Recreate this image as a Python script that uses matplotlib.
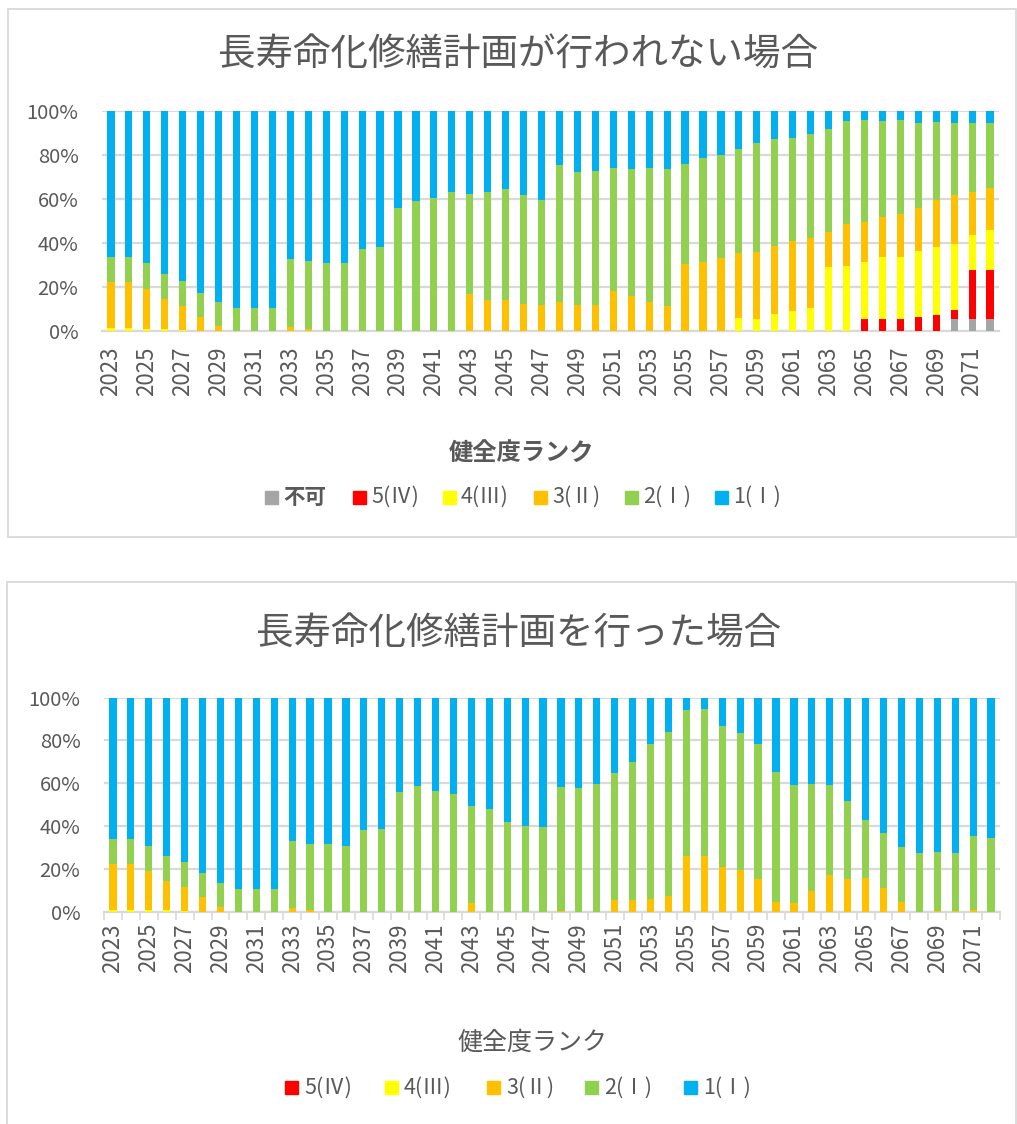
import matplotlib
matplotlib.use("Agg")
import matplotlib.pyplot as plt
from matplotlib.patches import Rectangle
import numpy as np

plt.rcParams['font.family'] = ['Noto Sans CJK JP', 'DejaVu Sans']

years = list(range(2023, 2073))
series_names = ["不可", "5(Ⅳ)", "4(Ⅲ)", "3(Ⅱ)", "2(Ⅰ)", "1(Ⅰ)"]
colors = ["#A5A5A5", "#FF0000", "#FFFF00", "#FFC000", "#92D050", "#00B0F0"]

title_top = "長寿命化修繕計画が行われない場合"
title_bottom = "長寿命化修繕計画を行った場合"
axis_title = "健全度ランク"

# ---- top chart: plan not carried out (percent of each rank) ----
top_fuka = [0]*47 + [5.3, 5.3, 5.3]
top_r5 = [0]*42 + [5.3, 5.3, 5.3, 6.2, 7.3, 4.2, 22.6, 22.6]
top_r4 = [1.2, 1.2, 0.8, 0.8, 0.4, 0.2] + [0]*29 + \
         [5.8, 5.6, 7.7, 8.9, 10.5, 29.1, 29.7, 26.1, 28.2, 28.5, 30.0, 31.0, 29.9, 15.7, 18.0]
top_r3 = [21.2, 21.2, 18.4, 13.6, 11.1, 6.3, 2.3, 0, 0, 0,
          1.7, 0.8, 0, 0, 0, 0, 0, 0, 0, 0,
          16.8, 14.2, 14.2, 12.3, 11.7, 13.0, 11.7, 12.0, 18.0, 16.1,
          13.0, 11.5, 30.3, 31.5, 33.0, 29.8, 30.5, 31.1, 32.0, 31.8,
          15.9, 18.9, 18.0, 18.5, 19.5, 19.9, 21.2, 22.3, 19.4, 18.9]
top_r2 = [11.4, 11.4, 11.6, 11.5, 11.1, 10.9, 10.7, 10.6, 10.6, 10.6,
          30.9, 30.9, 31.1, 30.8, 37.1, 38.0, 55.9, 58.9, 60.5, 63.0,
          45.6, 48.8, 50.3, 49.4, 47.7, 62.3, 60.4, 60.6, 55.9, 57.4,
          60.9, 62.1, 45.5, 47.1, 46.8, 47.1, 49.4, 48.6, 46.7, 47.1,
          47.0, 47.0, 46.4, 43.3, 42.6, 38.3, 35.3, 32.7, 31.4, 29.6]
top_r1 = [66.2, 66.2, 69.2, 74.1, 77.4, 82.6, 87.0, 89.4, 89.4, 89.4,
          67.4, 68.3, 68.9, 69.2, 62.9, 62.0, 44.1, 41.1, 39.5, 37.0,
          37.6, 37.0, 35.5, 38.3, 40.6, 24.7, 27.9, 27.4, 26.1, 26.5,
          26.1, 26.4, 24.2, 21.4, 20.2, 17.3, 14.5, 12.6, 12.4, 10.6,
          8.0, 4.4, 4.2, 4.7, 4.1, 5.6, 5.2, 5.6, 5.6, 5.6]

# ---- bottom chart: plan carried out ----
bot_r5 = [0]*50
bot_r4 = [1.1, 1.1, 0.8, 0.8, 0.5, 0.2] + [0]*44
bot_r3 = [21.3, 21.3, 18.5, 13.8, 11.0, 6.7, 2.5, 0, 0, 0,
          1.7, 0.8, 0, 0, 0, 0, 0, 0, 0, 0,
          4.4, 0, 0, 0, 0, 0.3, 0, 0, 5.6, 5.6,
          6.1, 7.5, 26.0, 26.3, 21.0, 19.8, 15.4, 4.5, 4.4, 9.8,
          17.4, 15.6, 15.9, 11.2, 4.7, 0, 0.3, 0.3, 1.1, 0]
bot_r2 = [11.6, 11.6, 11.7, 11.7, 11.6, 11.2, 11.1, 10.9, 10.9, 10.9,
          31.2, 31.1, 31.5, 31.0, 38.0, 38.8, 56.1, 58.7, 56.6, 54.8,
          44.8, 47.8, 41.9, 40.3, 39.4, 58.1, 57.6, 59.8, 59.0, 64.3,
          72.1, 76.4, 68.1, 68.2, 65.8, 63.7, 62.8, 60.6, 54.6, 49.7,
          41.6, 36.1, 27.2, 25.4, 25.4, 27.7, 27.9, 27.4, 34.1, 34.7]
bot_r1 = [66.0, 66.0, 69.0, 73.7, 76.9, 81.9, 86.4, 89.1, 89.1, 89.1,
          67.1, 68.1, 68.5, 69.0, 62.0, 61.2, 43.9, 41.3, 43.4, 45.2,
          50.8, 52.2, 58.1, 59.7, 60.6, 41.6, 42.4, 40.2, 35.4, 30.1,
          21.8, 16.1, 5.9, 5.5, 13.2, 16.5, 21.8, 34.9, 41.0, 40.5,
          41.0, 48.3, 56.9, 63.4, 69.9, 72.3, 71.8, 72.3, 64.8, 65.3]

TXT = "#595959"
GRID = "#D9D9D9"
W, H = 1017, 1124

fig = plt.figure(figsize=(W / 100, H / 100), dpi=100)


def fx(px):
    return px / W


def fy(py):
    return 1 - py / H


def draw_chart(rect, series, cols, ticks_marks):
    ax = fig.add_axes(rect)
    x = np.arange(len(years))
    bottom = np.zeros(len(years))
    for vals, c in zip(series, cols):
        v = np.array(vals, dtype=float)
        ax.bar(x, v, bottom=bottom, width=0.4, color=c, edgecolor='none', zorder=3)
        bottom += v
    ax.set_xlim(-0.5, len(years) - 0.5)
    ax.set_ylim(0, 100)
    ax.set_yticks(np.arange(0, 101, 20))
    ax.set_yticklabels([f"{v}%" for v in range(0, 101, 20)], fontsize=14.5, color=TXT)
    ax.yaxis.grid(True, color=GRID, linewidth=1.6, zorder=0)
    ax.set_axisbelow(True)
    for s in ['top', 'right', 'left']:
        ax.spines[s].set_visible(False)
    ax.spines['bottom'].set_color(GRID)
    ax.spines['bottom'].set_linewidth(1.6)
    ax.tick_params(axis='y', length=0, pad=17)
    ax.set_xticks(x[::2])
    ax.set_xticklabels([str(y) for y in years[::2]], rotation=90,
                       fontsize=16, color=TXT)
    if ticks_marks:
        ax.set_xticks(np.arange(-0.5, len(years), 1), minor=True)
        ax.tick_params(axis='x', which='minor', length=6, color=GRID, width=1.2)
        ax.tick_params(axis='x', which='major', length=0, pad=8)
    else:
        ax.tick_params(axis='x', length=0, pad=11)
    return ax


# panel borders
fig.patches.append(Rectangle((fx(8), fy(537)), fx(1016) - fx(8), fy(9) - fy(537),
                             transform=fig.transFigure, fill=False,
                             edgecolor=GRID, linewidth=1.3))
fig.patches.append(Rectangle((fx(7), fy(1130)), fx(1016) - fx(7), fy(582) - fy(1130),
                             transform=fig.transFigure, fill=False,
                             edgecolor=GRID, linewidth=1.3))

# top chart
top_series = [top_fuka, top_r5, top_r4, top_r3, top_r2, top_r1]
draw_chart([fx(102), fy(331), fx(999) - fx(102), fy(111) - fy(331)],
           top_series, colors, False)
fig.text(fx(518), fy(55), title_top, ha='center', va='center', fontsize=27, color=TXT)
fig.text(fx(521), fy(453), axis_title, ha='center', va='center', fontsize=17.5,
         fontweight='bold', color=TXT)
leg_x_top = [265, 353, 443, 534, 625, 715]
for name, c, lx in zip(series_names, colors, leg_x_top):
    fig.patches.append(Rectangle((fx(lx), fy(504)), fx(13), 13 / H,
                                 transform=fig.transFigure, color=c))
    fig.text(fx(lx + 18), fy(497), name, ha='left', va='center', fontsize=15.5,
             color=TXT, fontweight='bold' if name == "不可" else 'normal')

# bottom chart
bot_series = [bot_r5, bot_r4, bot_r3, bot_r2, bot_r1]
draw_chart([fx(104), fy(912), fx(1000) - fx(104), fy(697.5) - fy(912)],
           bot_series, colors[1:], True)
fig.text(fx(518), fy(633), title_bottom, ha='center', va='center', fontsize=27, color=TXT)
fig.text(fx(532), fy(1043), axis_title, ha='center', va='center', fontsize=18,
         color=TXT)
leg_x_bot = [285, 385, 487, 585, 684]
for name, c, lx in zip(series_names[1:], colors[1:], leg_x_bot):
    fig.patches.append(Rectangle((fx(lx), fy(1094)), fx(13), 13 / H,
                                 transform=fig.transFigure, color=c))
    fig.text(fx(lx + 19), fy(1088), name, ha='left', va='center', fontsize=15.5,
             color=TXT)

fig.savefig("out.png", dpi=100, facecolor='white')
